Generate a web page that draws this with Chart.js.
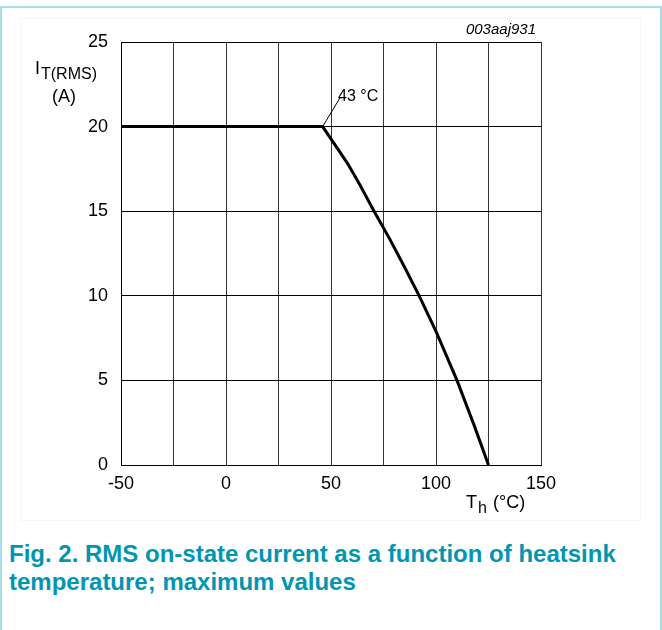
<!DOCTYPE html>
<html>
<head>
<meta charset="utf-8">
<script src="https://cdn.jsdelivr.net/npm/chart.js@4"></script>
<style>
  body { margin: 0; background: #fff; }
  #page { position: relative; width: 662px; height: 630px; overflow: hidden; font-family: "Liberation Sans", Arial, sans-serif; }
  #frame { position: absolute; left: 0; top: 6px; width: 658px; height: 640px; border: 2px solid #a8dce8; border-bottom: none; }
  #inner { position: absolute; left: 20px; top: 18px; width: 619px; height: 501px; border: 1px solid #f6f6f6; }
  #wrap { position: absolute; left: 0; top: 0; width: 662px; height: 540px; }
  #caption { position: absolute; left: 9px; top: 540px; width: 650px; font-weight: bold; font-size: 24px; line-height: 28px; color: #0096b2; }
</style>
</head>
<body>
<div id="page">
  <div id="frame"></div>
  <div id="inner"></div>
  <div id="wrap"><canvas id="currentChart" width="662" height="540"></canvas></div>
  <div id="caption">Fig. 2. RMS on-state current as a function of heatsink<br>temperature; maximum values</div>
</div>
<script>
// heatsink temperature (°C) and max RMS current (A)
var temps   = [-50, 46, 52, 58, 64, 70.5, 78, 85, 92, 100, 110, 118, 125];
var current = [20, 20, 18.9, 17.8, 16.5, 15, 13.35, 11.7, 10, 7.9, 5, 2.4, 0];

var xTicks = [-50, 0, 50, 100, 150];
var yTicks = [0, 5, 10, 15, 20, 25];

var knee = { x: 46, y: 20 };
var kneeLabel = { x: 54.3, y: 21.7, text: '43 °C' };

var FONT = '"Liberation Sans", Arial, sans-serif';

var labelsPlugin = {
    id: 'labels',
    afterDraw: function(chart) {
        var c = chart.ctx;
        var xs = chart.scales.x, ys = chart.scales.y;
        c.save();
        c.fillStyle = '#000';
        c.strokeStyle = '#000';

        // leader line to the knee
        var x0 = xs.getPixelForValue(knee.x), y0 = ys.getPixelForValue(knee.y);
        var x1 = xs.getPixelForValue(kneeLabel.x), y1 = ys.getPixelForValue(kneeLabel.y);
        c.lineWidth = 1;
        c.beginPath();
        c.moveTo(x0, y0);
        c.lineTo(x1, y1);
        c.stroke();
        c.font = '16px ' + FONT;
        c.textBaseline = 'alphabetic';
        c.textAlign = 'left';
        c.fillText(kneeLabel.text, x1 - 2, y1 + 3);

        // y axis title  I_T(RMS) (A)
        c.font = '18px ' + FONT;
        c.fillText('I', 35, 74);
        c.font = '16px ' + FONT;
        c.fillText('T(RMS)', 41, 79);
        c.font = '18px ' + FONT;
        c.fillText('(A)', 52, 102);

        // x axis title  T_h (°C)
        c.fillText('T', 466, 508);
        c.font = '16px ' + FONT;
        c.fillText('h', 478, 513);
        c.font = '18px ' + FONT;
        c.fillText('(°C)', 493, 508);

        // figure code
        c.font = 'italic 15px ' + FONT;
        c.textAlign = 'right';
        c.fillText('003aaj931', 536, 34);
        c.restore();
    }
};

var ctx = document.getElementById('currentChart').getContext('2d');
var currentChart = new Chart(ctx, {
    type: 'line',
    data: {
        datasets: [{
            data: temps.map(function(t, i) { return { x: t, y: current[i] }; }),
            borderColor: '#000',
            borderWidth: 3,
            pointRadius: 0,
            tension: 0,
            fill: false
        }]
    },
    options: {
        responsive: false,
        animation: false,
        events: [],
        layout: { padding: { left: 0, right: 121, top: 42, bottom: 0 } },
        plugins: {
            legend: { display: false },
            tooltip: { enabled: false }
        },
        scales: {
            x: {
                type: 'linear',
                min: -50,
                max: 150,
                afterFit: function(s) { s.height = 75; },
                afterBuildTicks: function(s) {
                    var t = [];
                    for (var v = -50; v <= 150; v += 25) t.push({ value: v });
                    s.ticks = t;
                },
                ticks: {
                    color: '#000',
                    padding: 8,
                    maxRotation: 0,
                    font: { size: 18, family: FONT },
                    callback: function(v) { return xTicks.indexOf(v) >= 0 ? String(v) : ''; }
                },
                grid: { color: '#333', lineWidth: 1, drawTicks: false },
                border: { color: '#000', width: 1 }
            },
            y: {
                min: 0,
                max: 25,
                afterFit: function(s) { s.width = 121; },
                afterBuildTicks: function(s) {
                    s.ticks = yTicks.map(function(v) { return { value: v }; });
                },
                ticks: {
                    color: '#000',
                    padding: 13,
                    font: { size: 18, family: FONT }
                },
                grid: { color: '#000', lineWidth: 1, drawTicks: false },
                border: { color: '#000', width: 1 }
            }
        }
    },
    plugins: [labelsPlugin]
});
</script>
</body>
</html>
